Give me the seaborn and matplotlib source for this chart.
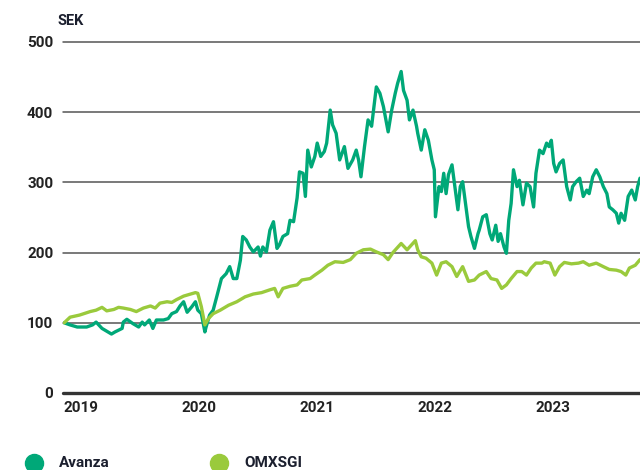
import matplotlib
matplotlib.use("Agg")
import matplotlib.pyplot as plt
import numpy as np
import pandas as pd
import seaborn as sns
from matplotlib.lines import Line2D

# Values (decimal years, indexed to 100 at start of 2019)
avanza_year = [
    2019.01, 2019.06, 2019.12, 2019.20, 2019.25, 2019.28, 2019.33, 2019.41, 2019.44,
    2019.50, 2019.51, 2019.54, 2019.59, 2019.64, 2019.67, 2019.69, 2019.73, 2019.76,
    2019.79, 2019.85, 2019.89, 2019.92, 2019.96, 2019.99, 2020.02, 2020.05, 2020.09,
    2020.12, 2020.14, 2020.17, 2020.20, 2020.21, 2020.24, 2020.27, 2020.30, 2020.34,
    2020.38, 2020.41, 2020.44, 2020.47, 2020.50, 2020.52, 2020.55, 2020.58, 2020.61,
    2020.65, 2020.67, 2020.69, 2020.72, 2020.75, 2020.78, 2020.81, 2020.83, 2020.86,
    2020.90, 2020.92, 2020.95, 2020.98, 2021.00, 2021.03, 2021.05, 2021.07, 2021.10,
    2021.13, 2021.15, 2021.18, 2021.21, 2021.23, 2021.26, 2021.28, 2021.31, 2021.34,
    2021.38, 2021.41, 2021.45, 2021.48, 2021.50, 2021.52, 2021.55, 2021.58, 2021.61,
    2021.65, 2021.68, 2021.71, 2021.75, 2021.78, 2021.81, 2021.83, 2021.86, 2021.88,
    2021.91, 2021.93, 2021.96, 2021.99, 2022.00, 2022.03, 2022.06, 2022.09, 2022.12,
    2022.14, 2022.15, 2022.18, 2022.20, 2022.22, 2022.24, 2022.26, 2022.29, 2022.31,
    2022.34, 2022.36, 2022.38, 2022.40, 2022.43, 2022.45, 2022.48, 2022.51, 2022.52,
    2022.55, 2022.58, 2022.61, 2022.63, 2022.66, 2022.68, 2022.70, 2022.73, 2022.75,
    2022.77, 2022.79, 2022.81, 2022.84, 2022.86, 2022.89, 2022.92, 2022.95, 2022.98,
    2023.00, 2023.03, 2023.06, 2023.09, 2023.11, 2023.13, 2023.15, 2023.17, 2023.20,
    2023.23, 2023.26, 2023.29, 2023.31, 2023.34, 2023.37, 2023.40, 2023.43, 2023.45,
    2023.48, 2023.51, 2023.54, 2023.57, 2023.60, 2023.62, 2023.65, 2023.68, 2023.70,
    2023.72, 2023.75, 2023.78, 2023.81, 2023.84, 2023.86, 2023.88,
]
avanza_value = [
    100, 97, 94, 94, 97, 101, 92, 84, 87,
    92, 101, 105, 99, 94, 101, 97, 104, 92,
    104, 104, 106, 113, 116, 124, 130, 115, 123,
    130, 118, 113, 87, 94, 111, 118, 137, 163,
    170, 180, 163, 163, 189, 223, 218, 208, 201,
    208, 195, 208, 201, 232, 244, 206, 211, 223,
    227, 246, 244, 278, 315, 313, 280, 346, 322,
    337, 356, 337, 344, 356, 403, 382, 370, 332,
    351, 320, 332, 346, 332, 308, 351, 389, 380,
    436, 427, 408, 372, 403, 427, 441, 458, 431,
    417, 389, 403, 380, 370, 346, 375, 360, 332,
    318, 251, 294, 287, 313, 284, 311, 325, 299,
    261, 294, 301, 275, 237, 223, 206, 227, 232,
    251, 254, 227, 218, 239, 216, 227, 208, 199,
    246, 270, 318, 294, 303, 268, 299, 294, 265,
    313, 346, 341, 356, 351, 360, 327, 315, 327,
    332, 294, 275, 294, 301, 306, 280, 289, 284,
    308, 318, 308, 294, 284, 265, 261, 256, 242,
    256, 246, 280, 289, 275, 294, 306,
]

omx_year = [
    2019.01, 2019.06, 2019.14, 2019.23, 2019.28, 2019.33, 2019.37, 2019.43, 2019.47,
    2019.51, 2019.57, 2019.62, 2019.68, 2019.74, 2019.78, 2019.82, 2019.88, 2019.92,
    2019.96, 2020.02, 2020.06, 2020.12, 2020.14, 2020.17, 2020.20, 2020.23, 2020.27,
    2020.33, 2020.40, 2020.47, 2020.54, 2020.61, 2020.68, 2020.75, 2020.79, 2020.82,
    2020.86, 2020.92, 2020.98, 2021.02, 2021.09, 2021.13, 2021.19, 2021.24, 2021.30,
    2021.37, 2021.43, 2021.48, 2021.54, 2021.60, 2021.65, 2021.71, 2021.75, 2021.79,
    2021.86, 2021.91, 2021.98, 2022.00, 2022.03, 2022.07, 2022.12, 2022.16, 2022.20,
    2022.24, 2022.29, 2022.33, 2022.38, 2022.43, 2022.48, 2022.52, 2022.58, 2022.62,
    2022.67, 2022.71, 2022.75, 2022.79, 2022.84, 2022.88, 2022.92, 2022.96, 2023.00,
    2023.05, 2023.07, 2023.12, 2023.16, 2023.20, 2023.24, 2023.30, 2023.36, 2023.40,
    2023.45, 2023.51, 2023.57, 2023.62, 2023.68, 2023.72, 2023.76, 2023.79, 2023.84,
    2023.88,
]
omx_value = [
    100, 108, 111, 116, 118, 122, 117, 119, 122,
    121, 119, 116, 121, 124, 121, 128, 130, 129,
    133, 138, 140, 143, 142, 123, 97, 106, 113,
    118, 125, 130, 137, 141, 143, 147, 149, 137,
    149, 152, 154, 161, 163, 168, 175, 182, 187,
    186, 190, 199, 204, 205, 201, 197, 190, 200,
    213, 204, 217, 204, 194, 192, 185, 168, 185,
    187, 180, 166, 180, 159, 161, 168, 173, 163,
    161, 149, 154, 163, 173, 173, 168, 178, 185,
    185, 187, 185, 168, 180, 186, 184, 185, 187,
    182, 185, 180, 176, 175, 173, 168, 178, 182,
    190,
]

series_names = ["Avanza", "OMXSGI"]
series_colors = ["#00A878", "#9ACA3C"]
year_ticks = [2019, 2020, 2021, 2022, 2023]
value_ticks = [0, 100, 200, 300, 400, 500]
unit_label = "SEK"

TEXT = "#1b1f2e"

sns.set_theme(style="white")
plt.rcParams["font.family"] = ["Roboto", "DejaVu Sans"]
plt.rcParams["font.weight"] = "bold"

df = pd.concat(
    [
        pd.DataFrame({"year": avanza_year, "value": avanza_value, "series": series_names[0]}),
        pd.DataFrame({"year": omx_year, "value": omx_value, "series": series_names[1]}),
    ],
    ignore_index=True,
)

fig = plt.figure(figsize=(6.4, 4.7), dpi=100)
ax = fig.add_axes([63 / 640, 1 - 393 / 470, 1 - 63 / 640, (393 - 42) / 470])

for y in value_ticks[1:]:
    ax.axhline(y, color="#555555", linewidth=1.1, zorder=1, clip_on=False)

sns.lineplot(
    data=df,
    x="year",
    y="value",
    hue="series",
    hue_order=series_names,
    palette=series_colors,
    linewidth=2.4,
    legend=False,
    ax=ax,
    zorder=3,
)

ax.axhline(0, color="#333333", linewidth=2.4, zorder=4, clip_on=False)

ax.set_xlim(2019, 2023.88)
ax.set_ylim(0, 500)
ax.set_xticks(year_ticks)
ax.set_xticklabels([str(y) for y in year_ticks], ha="left")
ax.set_yticks(value_ticks)
ax.set_yticklabels([str(v) for v in value_ticks])
ax.tick_params(axis="x", length=0, pad=6, labelsize=11, labelcolor="#222222")
ax.tick_params(axis="y", length=0, pad=7, labelsize=11, labelcolor="#222222")
for label in ax.get_xticklabels() + ax.get_yticklabels():
    label.set_fontweight("bold")
ax.set_xlabel("")
ax.set_ylabel("")
for side in ["top", "right", "left", "bottom"]:
    ax.spines[side].set_visible(False)

fig.text(57 / 640, 1 - 21 / 470, unit_label, fontsize=10.5, fontweight="bold",
         color=TEXT, ha="left", va="center")

# legend row at the bottom edge
legend_x = [34, 219]
for name, color, px in zip(series_names, series_colors, legend_x):
    fig.add_artist(Line2D([px / 640], [1 - 463 / 470], marker="o", markersize=13,
                          color=color, linestyle="none", transform=fig.transFigure))
    fig.text((px + 25) / 640, 1 - 463 / 470, name, fontsize=11, fontweight="bold",
             color=TEXT, ha="left", va="center")

fig.savefig("out.png", dpi=100)
